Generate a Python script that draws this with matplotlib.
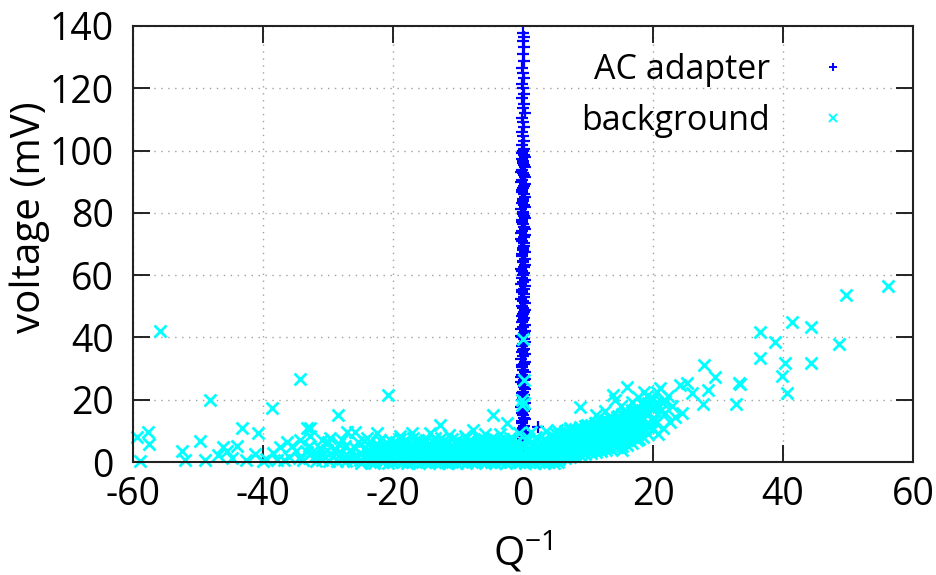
import matplotlib
matplotlib.use("Agg")
import matplotlib.pyplot as plt

plt.rcParams["font.family"] = ["Open Sans", "DejaVu Sans"]
plt.rcParams["axes.unicode_minus"] = False

# ---- data: (Q^-1, voltage in mV) ----------------------------------------
# AC adapter: narrow column of events around Q^-1 = 0
ac_low = [
    (0.05, 3.1), (-0.20, 4.6), (0.25, 6.2), (-0.05, 7.4), (0.15, 8.9),
    (-0.25, 10.3), (0.20, 11.6), (-0.10, 13.2), (0.10, 14.1), (-0.15, 15.8),
    (0.30, 17.0), (0.00, 18.3), (-0.20, 19.9), (0.20, 21.4), (-0.05, 22.5),
    (0.15, 24.1), (-0.25, 25.6), (0.25, 26.8), (-0.10, 28.0), (0.05, 29.7),
    (-0.20, 31.1), (0.30, 32.2), (0.00, 33.9), (-0.15, 35.3), (0.20, 36.4),
    (-0.05, 37.8), (0.10, 39.5), (-0.25, 40.6), (0.25, 42.1), (0.00, 43.3),
    (-0.15, 44.8), (0.15, 46.4), (-0.05, 47.5), (0.30, 48.9), (-0.20, 50.2),
    (0.05, 51.8), (0.20, 53.0), (-0.10, 54.6), (0.10, 55.7), (-0.25, 57.1),
    (0.25, 58.5), (0.00, 60.0), (-0.15, 61.2), (0.15, 62.7), (-0.05, 64.1),
    (0.30, 65.3), (-0.20, 66.8), (0.05, 68.2), (0.20, 69.4), (-0.10, 70.9),
    (0.10, 72.3), (-0.25, 73.5), (0.25, 74.8), (0.00, 76.4), (-0.15, 77.6),
    (0.15, 79.1), (-0.05, 80.3), (0.30, 81.9), (-0.20, 83.2), (0.05, 84.4),
    (0.20, 85.9), (-0.10, 87.3), (0.10, 88.6), (-0.25, 89.8), (0.25, 91.4),
    (0.00, 92.7), (-0.15, 93.8), (0.15, 95.3), (-0.05, 96.6), (0.30, 97.9),
    (-0.20, 99.2), (2.30, 11.3),
]
ac_low_b = [
    (0.35, 3.9), (-0.10, 5.4), (0.10, 6.8), (-0.30, 8.2), (0.30, 9.6),
    (0.00, 11.0), (-0.20, 12.4), (0.25, 13.7), (-0.05, 15.0), (0.15, 16.4),
    (-0.30, 17.7), (0.30, 19.1), (0.05, 20.6), (-0.15, 22.0), (0.25, 23.3),
    (-0.05, 24.9), (0.10, 26.2), (-0.30, 27.4), (0.30, 28.9), (-0.10, 30.4),
    (0.15, 31.6), (-0.25, 33.0), (0.25, 34.6), (0.00, 35.9), (-0.20, 37.1),
    (0.30, 38.6), (-0.10, 40.0), (0.15, 41.4), (-0.30, 42.7), (0.30, 44.0),
    (0.00, 45.6), (-0.20, 47.0), (0.20, 48.2), (-0.05, 49.6), (0.35, 51.0),
    (-0.25, 52.4), (0.10, 53.8), (-0.10, 55.2), (0.30, 56.4), (0.00, 57.8),
    (-0.20, 59.2), (0.20, 60.6), (-0.30, 61.9), (0.30, 63.4), (0.05, 64.7),
    (-0.15, 66.0), (0.25, 67.5), (-0.05, 68.8), (0.15, 70.2), (-0.30, 71.6),
    (0.30, 72.9), (-0.10, 74.2), (0.10, 75.6), (-0.20, 77.0), (0.30, 78.3),
    (0.00, 79.7), (-0.25, 81.1), (0.20, 82.5), (-0.05, 83.8), (0.35, 85.1),
    (-0.20, 86.6), (0.05, 88.0), (0.25, 89.2), (-0.15, 90.6), (0.15, 92.0),
    (-0.30, 93.2), (0.30, 94.6), (0.00, 96.0), (-0.15, 97.2), (0.20, 98.6),
    (0.00, 99.8),
]
ac_high = [
    (0.10, 100.6), (-0.15, 101.9), (0.20, 103.1), (0.00, 104.8), (-0.20, 106.0),
    (0.15, 107.7), (0.05, 109.2), (-0.10, 110.4), (0.25, 112.0), (-0.05, 113.6),
    (0.10, 115.1), (-0.20, 116.9), (0.20, 118.2), (0.00, 120.0), (-0.10, 121.5),
    (0.15, 123.3), (0.05, 125.0), (-0.15, 126.4), (0.10, 128.6), (0.00, 130.9),
    (0.20, 133.2), (-0.05, 135.1), (0.10, 136.6), (0.00, 137.8),
]

# background: dense cloud near zero plus a rising tail at positive Q^-1
bg_left = [
    (-55.8, 42.0), (-59.4, 8.0), (-57.7, 9.7), (-57.5, 5.8), (-58.9, 0.2),
    (-52.5, 3.5), (-52.0, 0.6), (-49.7, 6.8), (-48.2, 20.0), (-48.9, 0.6),
    (-46.1, 4.8), (-44.0, 5.2), (-43.2, 11.0), (-40.8, 9.4), (-44.8, 1.4),
    (-42.6, 0.8), (-41.3, 2.6), (-47.0, 2.4), (-45.5, 3.4), (-38.4, 2.9),
    (-37.4, 4.8), (-34.3, 7.1), (-32.8, 11.0), (-39.5, 0.9), (-36.8, 0.5),
    (-38.6, 17.4), (-34.3, 26.8), (-20.8, 21.6), (-40.0, 0.4),
]
bg_mid_left = [
    (-33.8, 0.5), (-32.6, 2.8), (-31.9, 0.3), (-31.2, 4.6), (-30.4, 1.6),
    (-29.8, 0.2), (-29.1, 3.4), (-28.3, 5.9), (-27.9, 1.1), (-27.2, 0.3),
    (-26.6, 3.9), (-26.0, 2.0), (-25.4, 6.3), (-25.1, 0.6), (-24.5, 4.2),
    (-23.8, 1.5), (-23.3, 0.2), (-22.7, 5.1), (-22.4, 2.9), (-33.0, 5.0),
    (-31.5, 2.2), (-30.0, 6.5), (-35.0, 3.5), (-36.0, 1.5),
    (-36.3, 6.5), (-33.2, 11.0), (-29.7, 7.7), (-27.1, 9.7), (-25.8, 9.7),
    (-22.5, 9.4), (-28.5, 15.0), (-32.8, 8.2), (-24.0, 7.6),
    (-34.5, 1.2), (-33.2, 3.3), (-32.0, 1.8), (-30.9, 0.5), (-30.2, 3.9),
    (-29.3, 1.9), (-28.6, 0.4), (-28.0, 3.0), (-27.4, 5.1), (-26.8, 1.6),
    (-26.2, 0.2), (-25.8, 4.5), (-25.0, 2.7), (-24.4, 6.6), (-31.0, 7.2),
    (-27.8, 7.0), (-35.6, 5.2), (-37.8, 0.8),
]
bg_core = [
    (-21.6, 0.3), (-20.2, 0.1), (-19.1, 0.6), (-17.6, 0.2), (-16.5, 0.4),
    (-15.0, 0.0), (-13.9, 0.5), (-12.4, 0.2), (-11.3, 0.3), (-9.8, 0.6),
    (-8.7, 0.1), (-7.2, 0.4), (-6.1, 0.2), (-4.6, 0.5), (-3.5, 0.3),
    (-2.0, 0.1), (-0.9, 0.4),
    (-21.0, 2.4), (-19.7, 2.9), (-18.3, 2.2), (-17.0, 2.7), (-15.8, 3.1),
    (-14.4, 2.5), (-13.1, 2.0), (-11.9, 2.8), (-10.5, 2.6), (-9.2, 3.2),
    (-8.0, 2.3), (-6.6, 2.7), (-5.3, 2.1), (-4.1, 3.0), (-2.8, 2.5),
    (-1.4, 2.8), (-0.3, 2.2),
    (-21.4, 4.8), (-20.0, 5.3), (-18.6, 4.5), (-17.3, 5.6), (-16.0, 4.9),
    (-14.7, 5.2), (-13.4, 4.6), (-12.0, 5.5), (-10.8, 5.0), (-9.5, 4.7),
    (-8.2, 5.8), (-6.9, 5.1), (-5.6, 5.4), (-4.3, 4.9), (-3.0, 5.7),
    (-1.7, 5.2), (-0.5, 5.5),
    (-20.5, 7.2), (-18.9, 8.4), (-17.1, 9.4), (-16.2, 7.0), (-14.3, 9.4),
    (-12.8, 12.0), (-13.5, 7.6), (-11.4, 8.8), (-10.1, 7.1), (-9.0, 8.2),
    (-7.7, 10.3), (-6.8, 7.4), (-5.9, 9.0), (-4.8, 7.8), (-3.6, 8.9),
    (-2.5, 12.6), (-1.6, 7.5), (-0.7, 9.3), (-4.6, 15.2), (-19.5, 6.5),
    (-15.3, 6.4), (-8.3, 6.6), (-2.2, 6.8),
]
bg_core_b = [
    (-24.2, 1.3), (-23.4, 1.0), (-22.2, 1.6), (-21.3, 1.2), (-20.7, 1.5),
    (-19.4, 1.1), (-18.6, 1.7), (-17.9, 1.3), (-16.9, 1.0), (-16.2, 1.6),
    (-15.4, 1.2), (-14.6, 1.5), (-13.6, 1.1), (-12.8, 1.4), (-12.1, 1.7),
    (-11.5, 1.0), (-10.7, 1.3), (-9.9, 1.6), (-9.2, 1.2), (-8.5, 1.5),
    (-7.8, 1.0), (-6.9, 1.4), (-6.3, 1.7), (-5.4, 1.1), (-4.8, 1.3),
    (-3.9, 1.6), (-3.2, 1.0), (-2.4, 1.4), (-1.7, 1.2), (-1.0, 1.7),
    (-0.2, 1.3), (0.5, 1.5), (1.2, 1.1), (1.9, 1.6), (2.6, 1.2), (3.3, 1.4),
    (-23.9, 3.8), (-23.0, 4.2), (-22.0, 3.6), (-21.2, 4.0), (-20.6, 3.5),
    (-19.3, 4.3), (-18.8, 3.7), (-17.8, 4.1), (-17.1, 3.9), (-16.3, 4.4),
    (-15.6, 3.6), (-14.8, 4.0), (-13.9, 4.2), (-12.9, 3.7), (-12.3, 4.3),
    (-11.4, 3.9), (-10.6, 3.5), (-10.0, 4.1), (-9.3, 4.4), (-8.6, 3.8),
    (-7.6, 4.0), (-7.0, 4.3), (-6.2, 3.6), (-5.5, 4.1), (-4.7, 3.9),
    (-4.0, 4.4), (-3.3, 3.7), (-2.5, 4.2), (-1.8, 3.8), (-1.1, 4.3),
    (-0.4, 3.9), (0.6, 4.1), (1.3, 3.6), (2.0, 4.2), (2.8, 3.8), (3.4, 4.3),
    (-24.9, -0.2), (-23.6, 0.1), (-22.9, -0.3), (-21.5, 0.0), (-20.8, -0.4),
    (-19.9, 0.2), (-18.6, -0.1), (-17.9, -0.3), (-17.1, 0.1), (-16.0, -0.2),
    (-15.3, 0.2), (-14.5, -0.4), (-13.6, 0.0), (-12.9, -0.2), (-12.0, 0.1),
    (-11.6, -0.3), (-10.9, 0.0), (-10.2, -0.2), (-9.4, 0.2), (-8.8, -0.3),
    (-7.9, 0.0), (-7.3, -0.1), (-6.5, 0.2), (-5.8, -0.3), (-5.0, 0.1),
    (-4.3, -0.2), (-3.6, 0.0), (-2.7, -0.4), (-1.9, 0.2), (-1.2, -0.1),
    (-0.6, 0.1), (0.3, -0.3), (1.0, 0.0), (1.8, -0.2), (2.5, 0.1),
    (3.2, -0.3), (4.0, 0.0), (4.7, -0.2), (5.4, 0.1),
    (-23.5, 6.4), (-22.0, 7.1), (-20.9, 6.2), (-19.0, 7.5), (-17.8, 6.6),
    (-16.9, 7.8), (-15.8, 6.3), (-14.9, 7.2), (-13.8, 6.5), (-12.6, 7.7),
    (-11.8, 6.4), (-10.9, 7.3), (-9.8, 6.2), (-8.8, 7.6), (-7.9, 6.8),
    (-6.9, 6.3), (-6.0, 7.4), (-5.1, 6.6), (-4.1, 7.0), (-3.2, 6.4),
    (-2.0, 7.8), (-1.0, 6.5),
]
bg_core_c = [
    (-23.0, 0.7), (-21.9, 0.9), (-20.5, 0.6), (-19.3, 0.8), (-18.0, 0.7),
    (-16.7, 1.0), (-15.6, 0.6), (-14.2, 0.9), (-13.0, 0.8), (-11.8, 0.7),
    (-10.6, 0.9), (-9.5, 0.6), (-8.2, 0.8), (-7.0, 1.0), (-5.9, 0.7),
    (-4.5, 0.8), (-3.3, 0.6), (-2.2, 0.9), (-1.0, 0.7), (0.1, 0.8),
    (1.1, 1.0), (2.3, 1.2), (3.5, 1.4), (4.6, 1.6), (5.8, 1.9), (6.9, 2.1),
    (-23.6, 2.0), (-22.6, 1.9), (-21.1, 2.1), (-19.9, 1.8), (-18.5, 2.0),
    (-17.3, 2.2), (-16.1, 1.9), (-14.9, 2.0), (-13.5, 2.1), (-12.3, 1.8),
    (-11.0, 2.0), (-9.7, 2.2), (-8.4, 1.9), (-7.4, 2.1), (-6.0, 1.8),
    (-4.9, 2.0), (-3.7, 2.1), (-2.6, 1.9), (-1.5, 2.2), (-0.1, 2.0),
    (1.6, 2.3), (2.9, 2.6), (4.2, 3.0), (5.3, 3.3), (6.1, 3.8), (7.6, 4.0),
    (-22.8, 3.2), (-21.7, 3.3), (-20.3, 3.0), (-19.0, 3.4), (-17.7, 3.1),
    (-16.6, 3.2), (-15.2, 3.3), (-14.1, 3.0), (-12.7, 3.3), (-11.6, 3.2),
    (-10.3, 3.1), (-9.0, 3.4), (-7.9, 3.0), (-6.7, 3.2), (-5.6, 3.3),
    (-4.4, 3.1), (-3.1, 3.4), (-2.0, 3.2), (-0.9, 3.0), (0.9, 3.5),
    (2.2, 3.9), (3.6, 4.4), (4.9, 4.8), (6.0, 5.3), (7.0, 6.0), (8.3, 6.3),
    (-23.2, 4.5), (-21.9, 4.6), (-20.8, 4.3), (-19.6, 4.7), (-18.2, 4.6),
    (-17.0, 4.4), (-15.9, 4.8), (-14.5, 4.5), (-13.2, 4.6), (-12.0, 4.4),
    (-10.9, 4.7), (-9.7, 4.5), (-8.5, 4.6), (-7.3, 4.8), (-6.0, 4.4),
    (-4.9, 4.6), (-3.7, 4.5), (-2.3, 4.7), (-1.2, 4.6), (0.3, 5.0),
    (1.7, 5.4), (3.0, 5.9), (4.3, 6.3), (5.4, 6.9), (6.6, 7.3), (7.8, 7.8),
    (-22.5, 5.8), (-21.0, 6.0), (-19.8, 5.9), (-18.4, 6.1), (-17.2, 5.8),
    (-15.7, 6.0), (-14.5, 5.9), (-13.1, 6.2), (-11.9, 5.8), (-10.4, 6.0),
    (-9.2, 6.1), (-7.8, 5.9), (-6.4, 6.0), (-5.1, 5.8), (-3.9, 6.2),
    (-2.6, 5.9), (-1.3, 6.1), (0.6, 6.6), (2.1, 7.0), (3.4, 7.3),
    (4.7, 7.9), (6.0, 8.3), (7.0, 9.0), (8.4, 9.4), (9.3, 10.0), (10.2, 10.6),
]
bg_rise = [
    (0.4, 0.3), (1.5, 0.1), (2.7, 0.4), (3.9, 0.2), (5.0, 0.5),
    (0.9, 2.6), (2.1, 3.0), (3.3, 2.4), (4.5, 2.9), (5.7, 2.2), (6.8, 2.7),
    (0.2, 5.1), (1.4, 5.6), (2.6, 4.9), (3.8, 5.4), (5.0, 5.0), (6.2, 5.7),
    (7.4, 4.8), (8.1, 3.2),
    (0.8, 7.6), (2.0, 8.1), (3.2, 7.2), (4.4, 8.4), (5.6, 7.9), (6.8, 8.6),
    (8.0, 7.4), (9.0, 6.0),
    (1.2, 9.6), (3.6, 10.1), (5.2, 10.4), (7.2, 10.9), (8.6, 9.8),
    (9.2, 3.8), (10.4, 4.5), (11.6, 5.2), (12.8, 5.0), (14.0, 5.9), (15.2, 3.9),
    (9.6, 6.4), (10.8, 7.1), (12.0, 7.8), (13.2, 8.3), (14.4, 8.7), (15.6, 9.4),
    (9.0, 9.0), (10.2, 9.6), (11.4, 10.3), (12.6, 11.0), (13.8, 11.6),
    (15.0, 12.2), (16.2, 11.8),
    (9.8, 11.8), (11.0, 12.6), (12.2, 13.2), (13.4, 14.0), (14.6, 14.8),
    (15.8, 15.5), (16.6, 14.2),
    (8.8, 17.7), (11.2, 15.0), (13.8, 21.6), (12.6, 16.5), (15.0, 18.0),
    (16.0, 24.2), (14.2, 19.8), (16.4, 8.2), (17.0, 10.5),
    (17.7, 21.0), (17.2, 16.8), (18.0, 13.5), (18.4, 18.7), (19.0, 15.2),
    (19.6, 20.6), (20.2, 17.5), (20.5, 12.8), (21.0, 23.9), (21.3, 19.3),
    (21.8, 15.8), (22.3, 21.2), (22.9, 18.0), (23.4, 14.6), (19.2, 11.4),
    (20.8, 9.0), (17.8, 7.5), (16.8, 19.4), (18.6, 22.5), (21.6, 11.0),
]
bg_rise_b = [
    (4.0, 0.8), (4.1, 3.4), (3.9, 6.1), (4.2, 8.4),
    (4.8, 0.6), (4.9, 3.8), (4.7, 6.5), (5.0, 8.9),
    (5.6, 1.0), (5.5, 4.0), (5.7, 6.8), (5.6, 9.3),
    (6.4, 1.3), (6.3, 4.3), (6.5, 7.2), (6.4, 9.8),
    (7.2, 1.5), (7.3, 4.6), (7.1, 7.5), (7.2, 10.2),
    (8.0, 1.9), (7.9, 5.0), (8.1, 8.0), (8.0, 10.6),
    (8.8, 2.2), (8.9, 5.3), (8.7, 8.4), (8.8, 11.1),
    (9.6, 2.5), (9.5, 5.6), (9.7, 8.9), (9.6, 11.5),
    (10.4, 2.9), (10.5, 6.0), (10.3, 9.2), (10.4, 12.0),
    (11.2, 3.3), (11.1, 6.4), (11.3, 9.7), (11.2, 12.4),
    (12.0, 3.6), (12.1, 6.8), (11.9, 10.0), (12.0, 13.0),
    (12.8, 4.0), (12.7, 7.1), (12.9, 10.5), (12.8, 13.5),
    (13.6, 4.3), (13.7, 7.6), (13.5, 11.0), (13.6, 14.1),
    (14.4, 4.7), (14.3, 8.0), (14.5, 11.4), (14.4, 14.6),
    (15.2, 5.1), (15.3, 8.5), (15.1, 11.9), (15.2, 15.3),
    (16.0, 5.6), (15.9, 9.0), (16.1, 12.5), (16.0, 16.0),
    (16.8, 6.2), (16.9, 9.6), (16.7, 13.1), (16.8, 16.7),
    (17.6, 7.0), (17.5, 10.3), (17.7, 13.8), (17.6, 17.4),
    (18.4, 8.0), (18.5, 11.2), (18.3, 14.6), (18.4, 18.2),
    (19.2, 9.1), (19.1, 12.4), (19.3, 15.7), (19.2, 19.0),
    (20.0, 10.5), (20.1, 13.6), (19.9, 16.9), (20.0, 20.1),
]
bg_rise_c = [
    (9.9, 4.2), (10.8, 5.0), (11.8, 5.6), (12.4, 6.1), (13.3, 6.5),
    (14.1, 7.0), (15.0, 7.4), (15.7, 7.9), (16.5, 8.5), (17.3, 9.2),
    (18.0, 9.8), (18.8, 10.6), (19.6, 11.8), (20.4, 12.6),
    (9.3, 10.3), (10.1, 10.9), (10.9, 11.5), (11.7, 12.0), (12.5, 12.6),
    (13.2, 13.0), (14.0, 13.4), (14.8, 13.9), (15.5, 14.5), (16.3, 15.2),
    (17.1, 15.8), (17.9, 16.4), (18.8, 17.0), (19.6, 18.2), (20.4, 18.9),
    (21.0, 16.5), (21.9, 19.5), (22.6, 13.0), (20.6, 22.5), (19.0, 21.2),
]
bg_right = [
    (24.2, 24.8), (25.2, 25.5), (24.5, 15.8), (26.0, 22.2), (27.7, 18.7),
    (27.8, 31.3), (28.5, 23.2), (29.5, 27.4), (32.8, 18.7), (33.2, 25.5),
    (33.4, 25.0), (36.5, 41.6), (36.5, 33.5), (38.8, 38.4), (39.8, 27.7),
    (40.3, 31.9), (40.6, 22.2), (41.4, 44.8), (44.3, 43.2), (44.3, 31.9),
    (48.6, 38.0), (49.7, 53.5), (56.2, 56.5),
]
bg_on_column = [
    (0.0, 39.4), (0.1, 26.2), (-0.1, 20.0), (0.2, 19.0), (-0.2, 18.4),
]

series_labels = ["AC adapter", "background"]
x_ticks = [-60, -40, -20, 0, 20, 40, 60]
y_ticks = [0, 20, 40, 60, 80, 100, 120, 140]

# ---- figure ----------------------------------------------------------------
fig = plt.figure(figsize=(9.37, 5.75), dpi=100)
ax = fig.add_axes([0.142, 0.1965, 0.8325, 0.7583])

ac = ac_low + ac_low_b + ac_high
bg = (bg_left + bg_mid_left + bg_core + bg_core_b + bg_core_c + bg_rise
      + bg_rise_b + bg_rise_c + bg_right + bg_on_column)

ax.plot([p[0] for p in ac], [p[1] for p in ac], linestyle="none",
        marker="+", ms=9, mew=1.6, color="#0000ff", label=series_labels[0],
        clip_on=False, zorder=3)
ax.plot([p[0] for p in bg], [p[1] for p in bg], linestyle="none",
        marker="x", ms=9, mew=2.0, color="#00ffff", label=series_labels[1],
        clip_on=False, zorder=4)

ax.set_xlim(-60, 60)
ax.set_ylim(0, 140)
ax.set_xticks(x_ticks)
ax.set_yticks(y_ticks)
ax.set_xticklabels([str(t) for t in x_ticks])
ax.set_yticklabels([str(t) for t in y_ticks])

ax.grid(True, color="#a0a0a0", linestyle=(0, (1, 4)), linewidth=1.0)
ax.set_axisbelow(True)

for sp in ax.spines.values():
    sp.set_linewidth(1.5)
    sp.set_color("#222222")
    sp.set_zorder(5)

ax.tick_params(which="major", direction="in", length=12, width=1.4,
               color="#222222", labelsize=27, top=True, right=True)
ax.tick_params(axis="y", pad=14)
ax.tick_params(axis="x", pad=10)

ax.set_xlabel("Q$^{\\mathregular{-1}}$", fontsize=29)
ax.set_ylabel("voltage (mV)", fontsize=29)
ax.xaxis.set_label_coords(0.5, -0.155)
ax.yaxis.set_label_coords(-0.106, 0.562)

leg = ax.legend(loc="upper right", bbox_to_anchor=(0.919, 0.939),
                markerfirst=False, frameon=False, fontsize=24.5,
                handlelength=1.0, handletextpad=1.35, labelspacing=0.5,
                borderpad=0.0, borderaxespad=0.0, markerscale=0.7)
for h in leg.legend_handles:
    h.set_markeredgewidth(1.4)
leg.set_zorder(6)

fig.savefig("out.png", dpi=100)
